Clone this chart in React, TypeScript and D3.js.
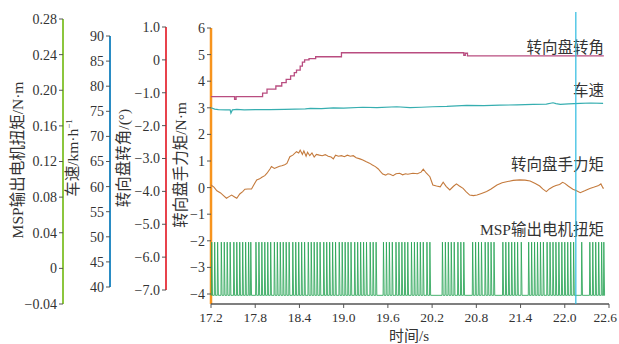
import React from 'react';
import * as d3 from 'd3';

// time axis
const timeTicks = [17.2, 17.8, 18.4, 19.0, 19.6, 20.2, 20.8, 21.4, 22.0, 22.6];
const mainTicks = [6, 5, 4, 3, 2, 1, 0, -1, -2, -3, -4];
const mspTicks = [0.28, 0.24, 0.2, 0.16, 0.12, 0.08, 0.04, 0, -0.04];
const speedTicks = [90, 85, 80, 75, 70, 65, 60, 55, 50, 45, 40];
const angleTicks = [1, 0, -1, -2, -3, -4, -5, -6, -7];

// 转向盘转角 (step signal)
const angleData: [number, number][] = [
  [17.2, 3.42], [17.52, 3.32], [17.54, 3.42], [17.9, 3.55], [17.96, 3.7], [18.08, 3.82],
  [18.16, 3.95], [18.22, 4.07], [18.28, 4.2], [18.33, 4.32], [18.36, 4.42], [18.41, 4.57],
  [18.44, 4.72], [18.47, 4.8], [18.53, 4.85], [18.62, 4.92], [18.97, 5.07], [20.63, 4.97],
  [20.65, 5.05], [20.68, 4.95], [22.53, 4.95],
];

// 车速
const speedData: [number, number][] = [
  [17.2, 3.0], [17.25, 2.95], [17.3, 2.93], [17.4, 2.92], [17.46, 2.92], [17.47, 2.8], [17.49, 2.92],
  [17.55, 2.94], [17.65, 2.92], [17.8, 2.93], [18.0, 2.93], [18.2, 2.94], [18.48, 2.96], [18.55, 2.98],
  [18.7, 2.97], [18.86, 3.0], [19.0, 2.99], [19.26, 3.02], [19.45, 3.01], [19.72, 3.04], [19.9, 3.01],
  [20.05, 3.02], [20.21, 3.04], [20.4, 3.05], [20.67, 3.09], [20.9, 3.08], [21.12, 3.1], [21.35, 3.11],
  [21.57, 3.13], [21.75, 3.14], [21.84, 3.19], [21.88, 3.16], [21.94, 3.13], [22.05, 3.15], [22.21, 3.17],
  [22.35, 3.18], [22.52, 3.17],
];

// 转向盘手力矩
const torqueData: [number, number][] = [
  [17.2, 0.1], [17.24, 0.02], [17.28, -0.12], [17.33, -0.2], [17.37, -0.3], [17.41, -0.4], [17.45, -0.33],
  [17.48, -0.28], [17.52, -0.35], [17.55, -0.4], [17.59, -0.24], [17.63, -0.15], [17.66, -0.06], [17.7, -0.05],
  [17.75, -0.05], [17.78, 0.1], [17.82, 0.29], [17.86, 0.33], [17.89, 0.39], [17.93, 0.45], [17.96, 0.54],
  [18.0, 0.7], [18.02, 0.79], [18.06, 0.72], [18.09, 0.76], [18.13, 0.8], [18.16, 0.82], [18.2, 0.86],
  [18.23, 0.91], [18.27, 1.16], [18.31, 1.22], [18.36, 1.35], [18.39, 1.3], [18.41, 1.41], [18.44, 1.25],
  [18.46, 1.38], [18.49, 1.18], [18.51, 1.33], [18.54, 1.2], [18.57, 1.3], [18.6, 1.15], [18.63, 1.25],
  [18.67, 1.22], [18.71, 1.2], [18.75, 1.24], [18.79, 1.18], [18.83, 1.15], [18.86, 1.08], [18.89, 1.22],
  [18.93, 1.18], [18.97, 1.2], [19.01, 1.16], [19.05, 1.22], [19.09, 1.18], [19.13, 1.2], [19.17, 1.12],
  [19.22, 1.08], [19.26, 1.04], [19.3, 0.98], [19.35, 0.92], [19.39, 0.85], [19.43, 0.79], [19.47, 0.7],
  [19.5, 0.6], [19.53, 0.51], [19.57, 0.47], [19.6, 0.52], [19.63, 0.5], [19.67, 0.45], [19.71, 0.52],
  [19.76, 0.54], [19.8, 0.48], [19.84, 0.52], [19.87, 0.5], [19.94, 0.54], [20.0, 0.52], [20.05, 0.58],
  [20.08, 0.69], [20.12, 0.55], [20.17, 0.41], [20.21, 0.1], [20.26, 0.06], [20.31, 0.03], [20.35, 0.2],
  [20.39, 0.05], [20.44, -0.09], [20.49, 0.05], [20.53, 0.14], [20.57, 0.06], [20.62, -0.03], [20.66, -0.15],
  [20.71, -0.28], [20.76, -0.3], [20.81, -0.28], [20.87, -0.22], [20.94, -0.15], [21.0, -0.05], [21.08, 0.1],
  [21.15, 0.18], [21.21, 0.22], [21.3, 0.27], [21.39, 0.29], [21.46, 0.28], [21.53, 0.25], [21.6, 0.15],
  [21.66, 0.06], [21.7, -0.05], [21.75, -0.15], [21.79, -0.05], [21.84, 0.03], [21.88, 0.08], [21.93, 0.12],
  [21.97, 0.2], [22.0, 0.16], [22.05, 0.05], [22.11, -0.06], [22.16, -0.12], [22.21, -0.19], [22.27, -0.12],
  [22.34, -0.03], [22.4, 0.02], [22.46, 0.08], [22.49, 0.14], [22.52, -0.02], [22.53, -0.02],
];

// MSP输出电机扭矩: pulse times, low / high level
const mspLow = -4.05;
const mspHigh = -2.05;
const mspSpikes = [
  17.21, 17.25, 17.29, 17.34, 17.38, 17.42, 17.46, 17.51, 17.55, 17.59, 17.63, 17.67, 17.71, 17.74,
  17.81, 17.85, 17.89, 17.93, 17.97, 18.01, 18.06, 18.1, 18.14, 18.18, 18.22, 18.26, 18.31, 18.35,
  18.39, 18.43, 18.47, 18.52, 18.56, 18.6, 18.64, 18.68, 18.73, 18.77, 18.81, 18.85, 18.89, 18.94,
  18.98, 19.02, 19.06, 19.1, 19.15, 19.19, 19.23, 19.27, 19.31, 19.36, 19.4, 19.44,
  19.54, 19.58, 19.62, 19.66, 19.71, 19.75, 19.79, 19.83, 19.87, 19.92, 19.96, 20.0, 20.04, 20.08,
  20.13, 20.17,
  20.34, 20.38, 20.42, 20.46, 20.5, 20.55, 20.59, 20.63,
  20.75, 20.79, 20.83, 20.87, 20.92, 20.96, 21.0, 21.04,
  21.16, 21.2, 21.24, 21.28, 21.32, 21.36, 21.41,
  21.51, 21.55, 21.59, 21.63, 21.67, 21.71, 21.76, 21.8, 21.84, 21.88, 21.92, 21.96, 22.0, 22.04,
  22.08, 22.12,
  22.23,
  22.34, 22.38, 22.42, 22.46, 22.5, 22.53,
];

const cursorTime = 22.15;

const seriesLabels = ['转向盘转角', '车速', '转向盘手力矩', 'MSP输出电机扭矩'];
const seriesLabelLevels = [5.25, 3.63, 0.87, -1.56];

const W = 619;
const H = 344;
const font = '"Liberation Serif", "Noto Sans CJK SC", serif';
const textColor = '#333';

const fmtMsp = (v: number) => (v === 0 ? '0' : d3.format('.2f')(v).replace('-', '−'));
const fmtAngle = (v: number) => (v === 0 ? '0' : d3.format('.1f')(v).replace('-', '−'));
const fmtInt = (v: number) => String(v).replace('-', '−');

const LeftAxis = ({ scale, x, ticks, fmt, color, fontSize = 14 }: any) => {
  const [r0, r1] = scale.range();
  return (
    <g>
      <line x1={x} x2={x} y1={r0} y2={r1} stroke={color} strokeWidth={2} />
      {ticks.map((t: number) => (
        <g key={t}>
          <line x1={x - 4} x2={x} y1={scale(t)} y2={scale(t)} stroke="#555" strokeWidth={1} />
          <text x={x - 6} y={scale(t)} dy="0.35em" textAnchor="end" fontSize={fontSize} fill={textColor} fontFamily={font}>
            {fmt(t)}
          </text>
        </g>
      ))}
    </g>
  );
};

const VTitle = ({ x, y, children }: any) => (
  <text transform={`translate(${x},${y}) rotate(-90)`} textAnchor="middle" dy="0.35em" fontSize={15.5} fill={textColor} fontFamily={font}>
    {children}
  </text>
);

export default function App() {
  const x = d3.scaleLinear().domain([17.2, 22.6]).range([211, 609]);
  const y = d3.scaleLinear().domain([-4, 6]).range([294, 28]);
  const yMsp = d3.scaleLinear().domain([-0.04, 0.28]).range([304, 19]);
  const ySpeed = d3.scaleLinear().domain([40, 90]).range([287, 36]);
  const yAngle = d3.scaleLinear().domain([-7, 1]).range([290, 27]);
  const axisBottom = y(-4.375);

  const line = d3.line<[number, number]>().x(d => x(d[0])).y(d => y(d[1]));
  const stepLine = d3.line<[number, number]>().x(d => x(d[0])).y(d => y(d[1])).curve(d3.curveStepAfter);

  const mspPoints: [number, number][] = [[17.2, mspLow]];
  mspSpikes.forEach(t => {
    mspPoints.push([t - 0.005, mspLow], [t, mspHigh], [t + 0.01, mspLow]);
  });
  mspPoints.push([22.53, mspLow]);

  return (
    <svg width={W} height={H} style={{ position: 'absolute', left: 0, top: 0, background: '#fff' }}>
      <rect width={W} height={H} fill="#fff" />

      {/* left stacked axes */}
      <LeftAxis scale={yMsp} x={63} ticks={mspTicks} fmt={fmtMsp} color="#8cc63e" />
      <LeftAxis scale={ySpeed} x={110} ticks={speedTicks} fmt={fmtInt} color="#2a8cc4" />
      <LeftAxis scale={yAngle} x={166} ticks={angleTicks} fmt={fmtAngle} color="#e8434c" />

      <VTitle x={18} y={160}>MSP输出电机扭矩/N·m</VTitle>
      <VTitle x={73} y={158}>车速/km·h<tspan dy="-0.7em" fontSize={9}>−1</tspan></VTitle>
      <VTitle x={124} y={158}>转向盘转角/(°)</VTitle>
      <VTitle x={181} y={165}>转向盘手力矩/N·m</VTitle>

      {/* main y axis */}
      <line x1={x(17.2)} x2={x(17.2)} y1={y(6)} y2={axisBottom} stroke="#f7941d" strokeWidth={2.5} />
      {mainTicks.map(t => (
        <g key={t}>
          <line x1={x(17.2) - 4} x2={x(17.2)} y1={y(t)} y2={y(t)} stroke="#555" />
          <text x={x(17.2) - 6} y={y(t)} dy="0.35em" textAnchor="end" fontSize={14} fill={textColor} fontFamily={font}>
            {fmtInt(t)}
          </text>
        </g>
      ))}

      {/* x axis */}
      <line x1={x(17.2)} x2={x(22.6)} y1={axisBottom} y2={axisBottom} stroke="#555" strokeWidth={1.5} />
      {timeTicks.map((t, i) => {
        const last = i === timeTicks.length - 1;
        return (
          <g key={t}>
            <line x1={x(t)} x2={x(t)} y1={axisBottom} y2={axisBottom + 4} stroke="#555" />
            <text x={last ? W - 2 : x(t)} y={axisBottom + 18} textAnchor={last ? 'end' : 'middle'} fontSize={13.5} fill={textColor} fontFamily={font}>
              {d3.format('.1f')(t)}
            </text>
          </g>
        );
      })}
      <text x={409} y={341} textAnchor="middle" fontSize={15} fill={textColor} fontFamily={font}>时间/s</text>

      {/* series */}
      <path d={line(mspPoints) || ''} fill="none" stroke="#2aa557" strokeWidth={1} strokeOpacity={0.85} />
      <path d={line(torqueData) || ''} fill="none" stroke="#c47a3c" strokeWidth={1.1} />
      <path d={line(speedData) || ''} fill="none" stroke="#36aeb0" strokeWidth={1.2} />
      <path d={stepLine(angleData) || ''} fill="none" stroke="#b94d80" strokeWidth={1.3} />

      {/* series labels */}
      {seriesLabels.map((s, i) => (
        <text key={s} x={604} y={y(seriesLabelLevels[i])} dy="0.35em" textAnchor="end" fontSize={15.5} fill={textColor} fontFamily={font}>
          {s}
        </text>
      ))}

      {/* cursor */}
      <line x1={x(cursorTime)} x2={x(cursorTime)} y1={12} y2={axisBottom} stroke="#2dbbe0" strokeWidth={1.2} />
    </svg>
  );
}
